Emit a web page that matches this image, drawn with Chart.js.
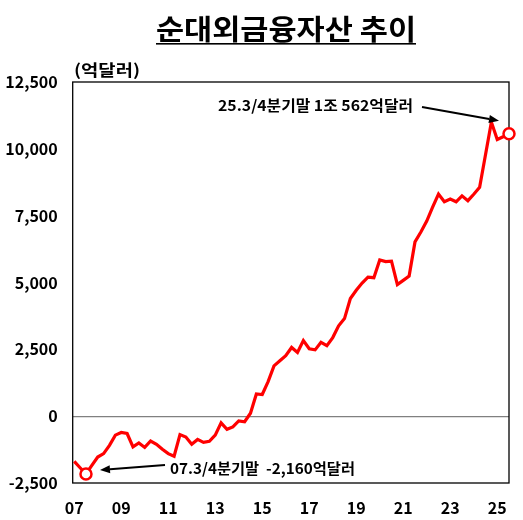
<!DOCTYPE html>
<html>
<head>
<meta charset="utf-8">
<script src="https://cdn.jsdelivr.net/npm/chart.js@4"></script>
<style>
  html, body { margin: 0; padding: 0; background: #fff; }
  #wrap { width: 523px; height: 520px; position: relative; }
</style>
</head>
<body>
<div id="wrap"><canvas id="iip-chart"></canvas></div>
<script>
// 분기 (07.1 ~ 25.3)
const startYear = 7;
const quarterCount = 75;
const quarters = [];
for (let i = 0; i < quarterCount; i++) {
    const yy = startYear + Math.floor(i / 4);
    quarters.push(String(yy).padStart(2, "0") + "." + (i % 4 + 1));
}

// 순대외금융자산 (억달러), 그림에서 읽은 값
const netAssets = [
    -1690, -1930, -2160, -1840, -1530, -1400, -1090, -710,
    -610, -650, -1150, -1000, -1170, -930, -1050, -1240,
    -1400, -1500, -690, -780, -1050, -870, -980, -940,
    -710, -250, -490, -400, -180, -210, 110, 830,
    810, 1290, 1880, 2070, 2260, 2570, 2380, 2830,
    2520, 2480, 2760, 2640, 2940, 3380, 3650, 4400,
    4710, 4980, 5200, 5180, 5840, 5780, 5800, 4920,
    5080, 5240, 6520, 6890, 7300, 7820, 8310, 8020,
    8120, 8020, 8240, 8060, 8300, 8560, 9780, 11000,
    10350, 10450, 10562
];

const xTickYears = ["07", "09", "11", "13", "15", "17", "19", "21", "23", "25"];
const yTicks = [-2500, 0, 2500, 5000, 7500, 10000, 12500];

const titleText = "순대외금융자산 추이";
const unitText = "(억달러)";
const lowNote = "07.3/4분기말  -2,160억달러";
const lastNote = "25.3/4분기말 1조 562억달러";

const FONT = "'Noto Sans CJK KR', 'Noto Sans', sans-serif";

function arrow(ctx, x1, y1, x2, y2) {
    const ang = Math.atan2(y2 - y1, x2 - x1);
    const len = 10, half = 4;
    ctx.beginPath();
    ctx.moveTo(x1, y1);
    ctx.lineTo(x2 - len * Math.cos(ang), y2 - len * Math.sin(ang));
    ctx.stroke();
    ctx.beginPath();
    ctx.moveTo(x2, y2);
    ctx.lineTo(x2 - len * Math.cos(ang) + half * Math.sin(ang), y2 - len * Math.sin(ang) - half * Math.cos(ang));
    ctx.lineTo(x2 - len * Math.cos(ang) - half * Math.sin(ang), y2 - len * Math.sin(ang) + half * Math.cos(ang));
    ctx.closePath();
    ctx.fill();
}

// 글자를 주어진 폭에 맞춰 그리기
function fitText(ctx, text, x, y, width) {
    const w = ctx.measureText(text).width;
    ctx.save();
    ctx.translate(x, y);
    ctx.scale(width / w, 1);
    ctx.fillText(text, 0, 0);
    ctx.restore();
}

// 제목, 단위, 테두리, 주석
const decorations = {
    id: "decorations",
    beforeDatasetsDraw(chart) {
        const { ctx, chartArea: a } = chart;
        ctx.save();
        ctx.strokeStyle = "#000";
        ctx.lineWidth = 1.3;
        ctx.strokeRect(a.left, a.top, a.right - a.left, a.bottom - a.top);
        ctx.restore();
    },
    afterDatasetsDraw(chart) {
        const { ctx } = chart;
        const pts = chart.getDatasetMeta(0).data;
        ctx.save();
        ctx.fillStyle = "#000";
        ctx.textBaseline = "middle";
        ctx.textAlign = "left";

        ctx.font = "bold 28px " + FONT;
        fitText(ctx, titleText, 156, 29, 260);
        ctx.fillRect(156, 43, 260, 1.6);

        ctx.font = "bold 16px " + FONT;
        fitText(ctx, unitText, 74, 70, 66);

        ctx.font = "bold 15px " + FONT;
        fitText(ctx, lowNote, 170, 468, 185);
        fitText(ctx, lastNote, 218, 105, 195);

        ctx.strokeStyle = "#000";
        ctx.lineWidth = 2;
        const lo = pts[2], hi = pts[pts.length - 1];
        arrow(ctx, 165, 465, lo.x + 14, lo.y - 4);
        arrow(ctx, 422, 107, hi.x - 10, hi.y - 13);
        ctx.restore();
    }
};

const hlIdx = [2, quarterCount - 1];

new Chart(document.getElementById("iip-chart"), {
    type: "line",
    data: {
        datasets: [{
            data: netAssets.map((v, i) => ({ x: i, y: v })),
            borderColor: "#ff0000",
            borderWidth: 3.2,
            tension: 0,
            clip: false,
            pointRadius: (c) => hlIdx.includes(c.dataIndex) ? 5.5 : 0,
            pointBackgroundColor: "#fff",
            pointBorderColor: "#ff0000",
            pointBorderWidth: 2.5,
            pointHoverRadius: 0
        }]
    },
    options: {
        responsive: true,
        maintainAspectRatio: false,
        animation: false,
        events: [],
        layout: { padding: { top: 82, right: 14, left: 0, bottom: 0 } },
        plugins: { legend: { display: false }, tooltip: { enabled: false } },
        scales: {
            x: {
                type: "linear",
                min: -0.26,
                max: quarterCount - 1,
                border: { display: false },
                grid: { display: false },
                afterFit: (s) => { s.height = 37; },
                afterBuildTicks: (s) => {
                    s.ticks = quarters
                        .map((q, i) => ({ q, i }))
                        .filter(({ q }) => q.endsWith(".1") && xTickYears.includes(q.split(".")[0]))
                        .map(({ i }) => ({ value: i }));
                },
                ticks: {
                    maxRotation: 0,
                    padding: 7,
                    color: "#000",
                    font: { family: FONT, size: 16, weight: "bold" },
                    callback: (v) => quarters[v].split(".")[0]
                }
            },
            y: {
                min: yTicks[0],
                max: yTicks[yTicks.length - 1],
                border: { display: false },
                afterFit: (s) => { s.width = 72.7; },
                afterBuildTicks: (s) => { s.ticks = yTicks.map((v) => ({ value: v })); },
                grid: {
                    drawTicks: false,
                    color: (c) => c.tick && c.tick.value === 0 ? "#808080" : "rgba(0,0,0,0)",
                    lineWidth: 1.3
                },
                ticks: {
                    padding: 15,
                    color: "#000",
                    font: { family: FONT, size: 16, weight: "bold" },
                    callback: (v) => v.toLocaleString("en-US")
                }
            }
        }
    },
    plugins: [decorations]
});
</script>
</body>
</html>
